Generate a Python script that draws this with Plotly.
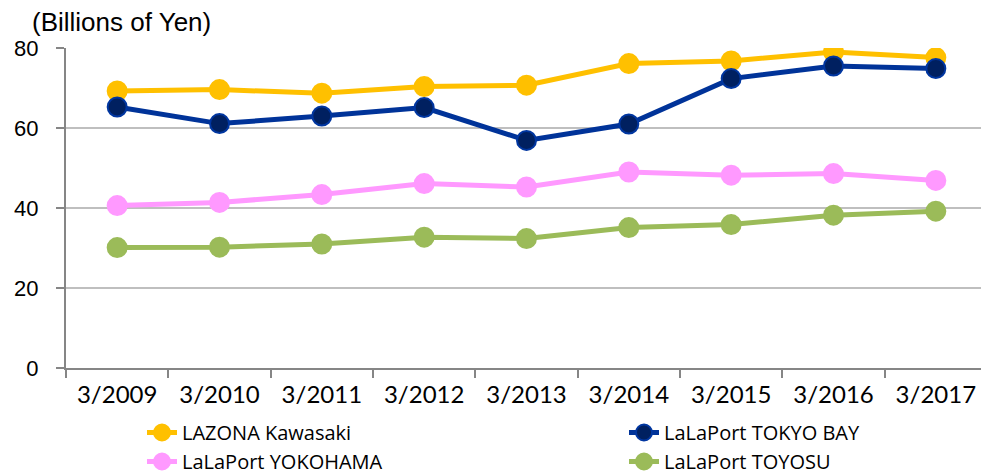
import plotly.graph_objects as go

categories = ["3/2009", "3/2010", "3/2011", "3/2012", "3/2013", "3/2014", "3/2015", "3/2016", "3/2017"]
lazona = [69.25, 69.6, 68.7, 70.35, 70.7, 76.1, 76.75, 79.0, 77.6]
tokyo_bay = [65.25, 61.1, 63.0, 65.1, 56.9, 61.0, 72.35, 75.5, 74.85]
yokohama = [40.6, 41.4, 43.35, 46.1, 45.25, 49.0, 48.2, 48.6, 46.9]
toyosu = [30.1, 30.2, 31.0, 32.7, 32.35, 35.1, 35.85, 38.2, 39.2]
y_ticks = [0, 20, 40, 60, 80]

series = [
    ("LAZONA Kawasaki", lazona, "#FFC000", "#FFC000", "#FFC000", "legend"),
    ("LaLaPort TOKYO BAY", tokyo_bay, "#003399", "#002060", "#0036A0", "legend2"),
    ("LaLaPort YOKOHAMA", yokohama, "#FF99FF", "#FF99FF", "#FF99FF", "legend"),
    ("LaLaPort TOYOSU", toyosu, "#9BBB59", "#9BBB59", "#9BBB59", "legend2"),
]

fig = go.Figure()
for name, vals, lc, mc, mlc, lg in series:
    fig.add_trace(go.Scatter(
        x=categories, y=vals, name=name, mode="lines+markers",
        line=dict(color=lc, width=5),
        marker=dict(size=19, color=mc, line=dict(color=mlc, width=2)),
        legend=lg,
    ))

# page body has an 8px margin, so the figure is sized to fit the 989x472 window
W, H = 981, 464
legend_font = dict(family="Open Sans", size=20, color="#000000")
fig.update_layout(
    width=W, height=H,
    margin=dict(l=58, r=2, t=40, b=104, autoexpand=False),
    paper_bgcolor="white", plot_bgcolor="white",
    title=dict(text="(Billions of Yen)", x=24/W, xanchor="left", xref="container",
               y=1 - 14/H, yanchor="middle", yref="container",
               font=dict(family="Liberation Sans, Arial", size=26, color="#000000")),
    showlegend=True,
    legend=dict(orientation="v", x=134/W, xanchor="left", xref="container",
                y=1 - 405/H, yanchor="top", yref="container",
                font=legend_font, bgcolor="rgba(0,0,0,0)", tracegroupgap=0),
    legend2=dict(orientation="v", x=616/W, xanchor="left", xref="container",
                 y=1 - 405/H, yanchor="top", yref="container",
                 font=legend_font, bgcolor="rgba(0,0,0,0)", tracegroupgap=0),
)
fig.update_xaxes(
    type="category", range=[-0.5, 8.5],
    tickson="boundaries", ticks="outside", ticklen=8, tickcolor="#868686", tickwidth=2,
    showline=True, linecolor="#868686", linewidth=2,
    showgrid=False, ticklabelstandoff=4, tickangle=0,
    tickfont=dict(family="Lato", size=24, color="#000000"),
)
fig.update_yaxes(
    range=[0, 80], tickvals=y_ticks, ticks="outside", ticklen=8, tickcolor="#868686", tickwidth=2,
    showline=True, linecolor="#868686", linewidth=2,
    showgrid=True, gridcolor="#BFBFBF", gridwidth=1.5, zeroline=False,
    ticklabelstandoff=13,
    tickfont=dict(family="Liberation Sans, Arial", size=22, color="#000000"),
)

fig.write_html("out.html")
